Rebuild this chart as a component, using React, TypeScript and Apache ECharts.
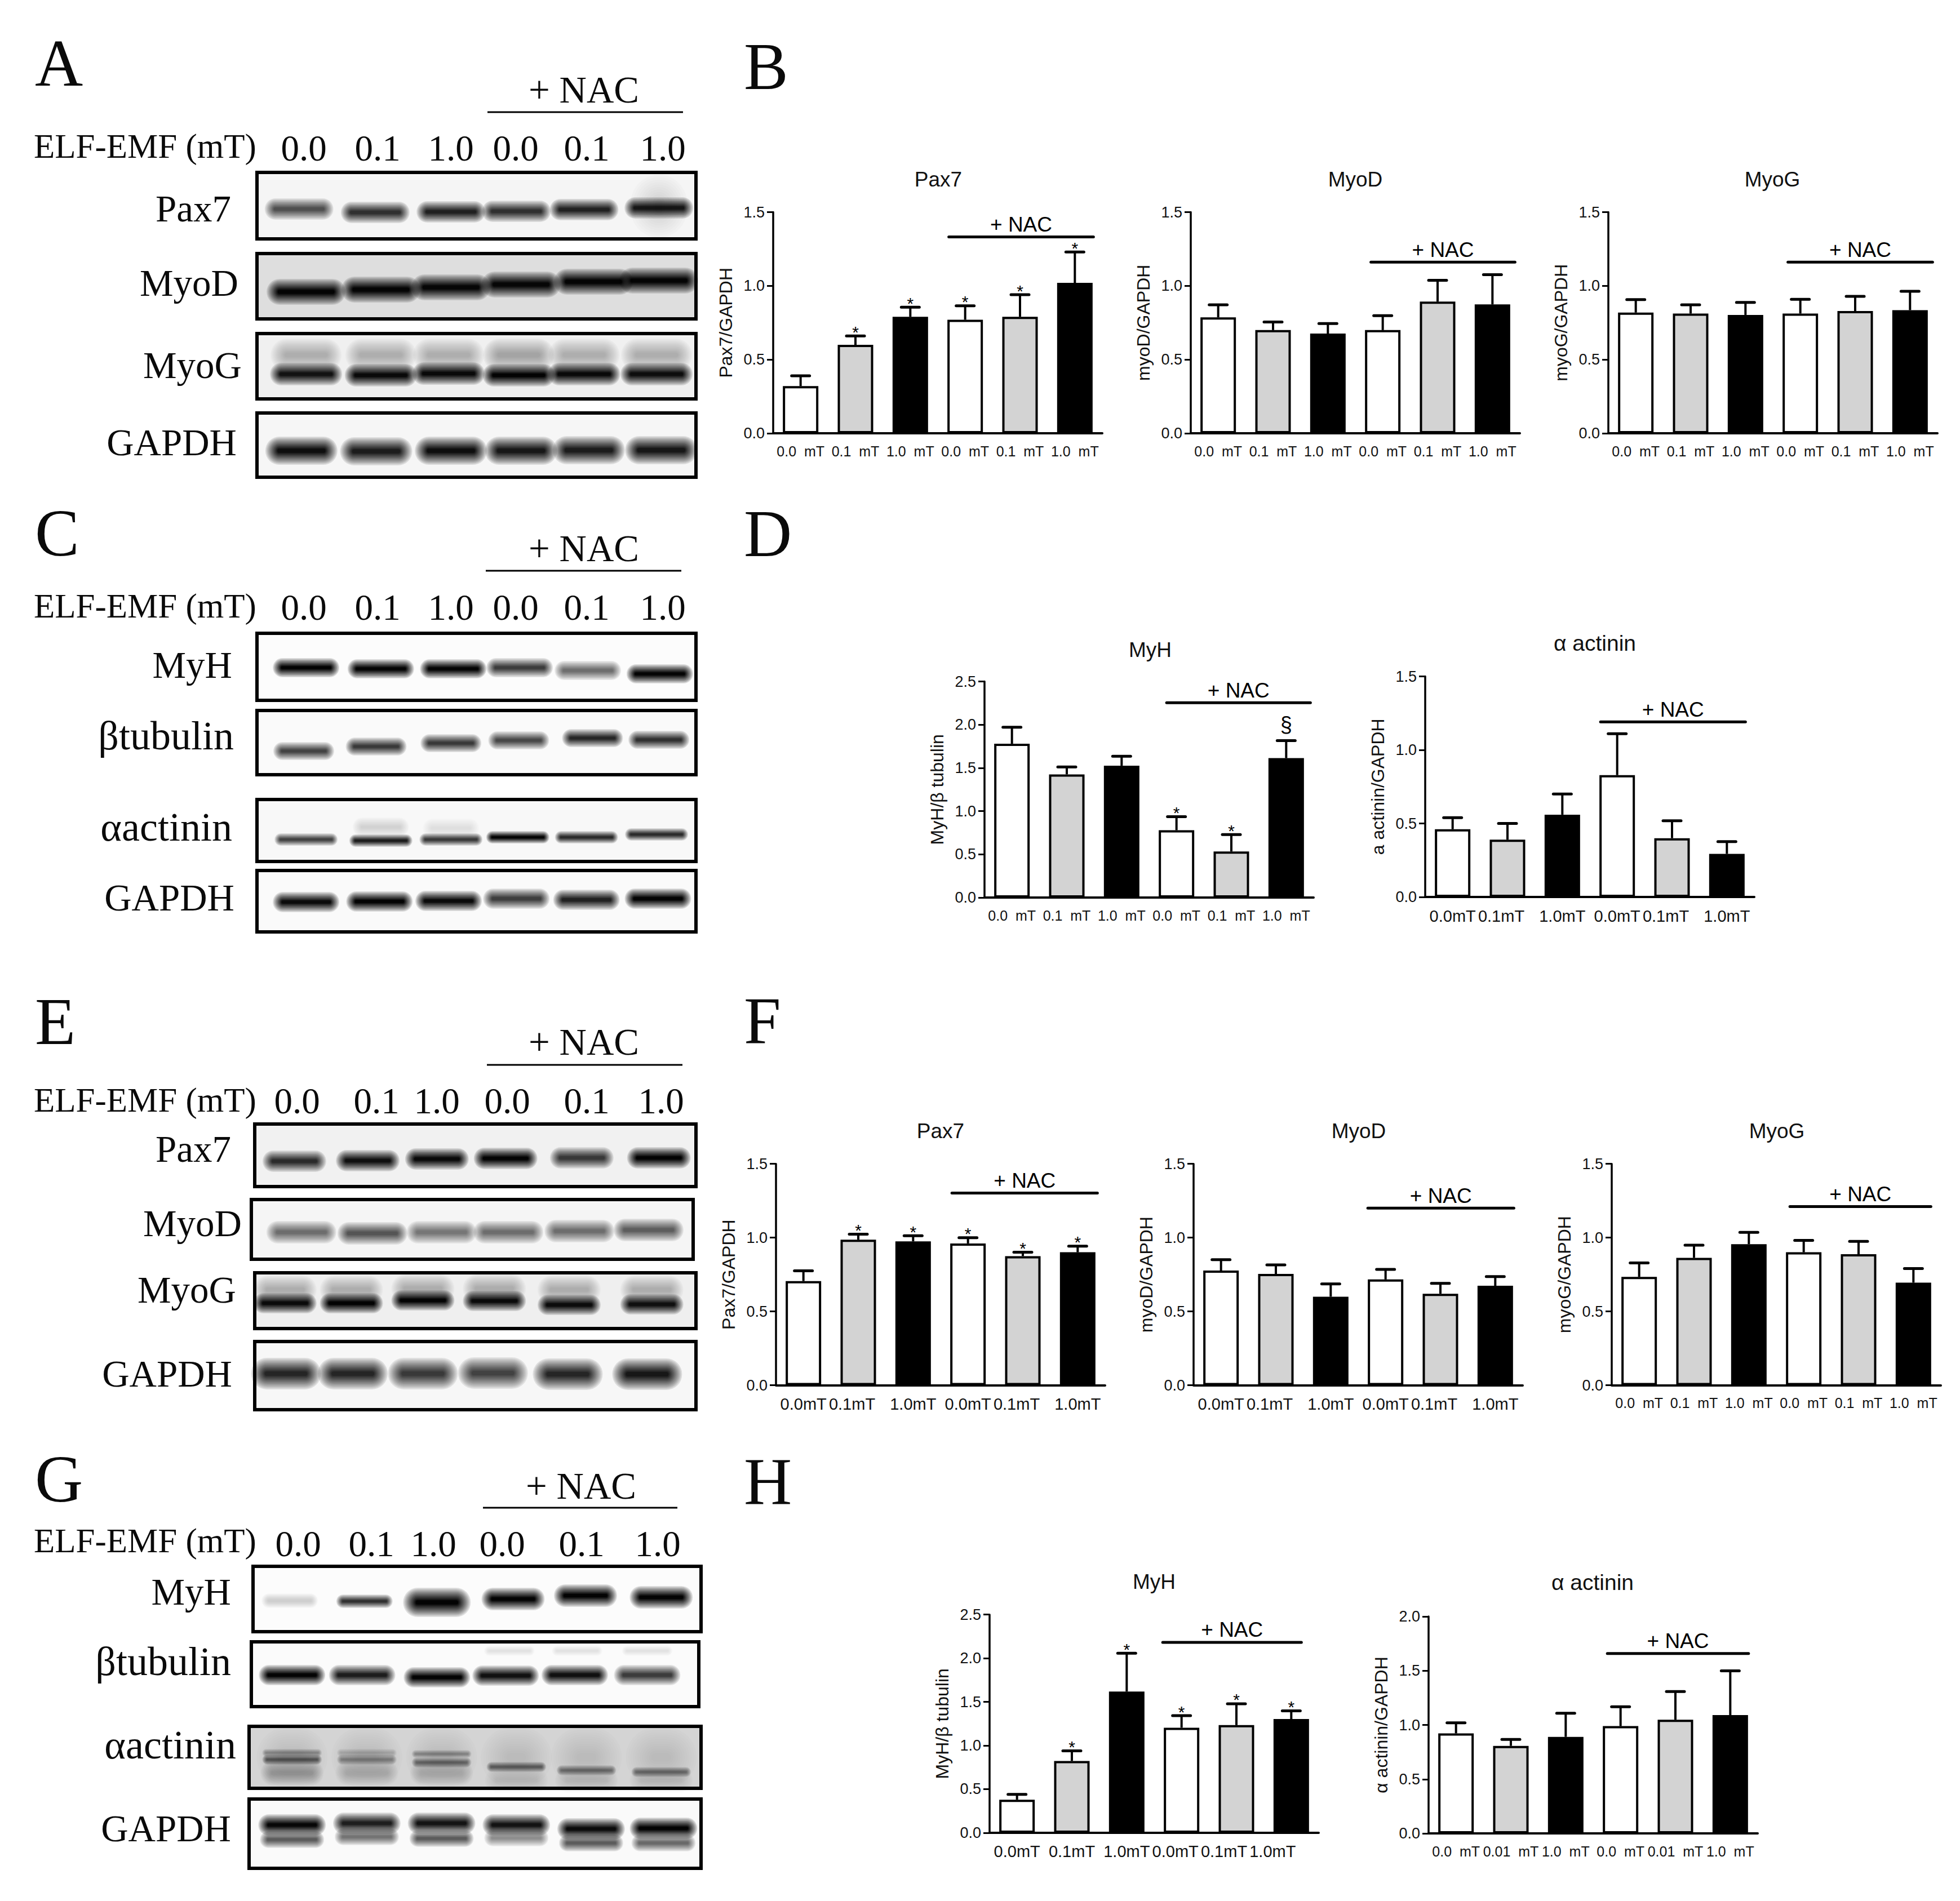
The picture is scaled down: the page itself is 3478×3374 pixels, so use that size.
import React, { useEffect, useRef } from "react";
import * as echarts from "echarts";

const W = 3478, H = 3374;
const SANS = "Liberation Sans", SERIF = "Liberation Serif";

// ---------- bar chart data ----------
const catsSpaced = ["0.0  mT", "0.1  mT", "1.0  mT", "0.0  mT", "0.1  mT", "1.0  mT"];
const catsTight = ["0.0mT", "0.1mT", "1.0mT", "0.0mT", "0.1mT", "1.0mT"];
const catsH2 = ["0.0  mT", "0.01  mT", "1.0  mT", "0.0  mT", "0.01  mT", "1.0  mT"];
const barFills = ["#ffffff", "#d3d3d3", "#000000", "#ffffff", "#d3d3d3", "#000000"];

const bPax7Mean = [0.32, 0.6, 0.79, 0.77, 0.79, 1.02];
const bPax7Top = [0.39, 0.66, 0.855, 0.865, 0.94, 1.23];
const bPax7Marks = ["", "*", "*", "*", "*", "*"];
const bMyoDMean = [0.786, 0.7, 0.676, 0.7, 0.893, 0.874];
const bMyoDTop = [0.871, 0.755, 0.744, 0.798, 1.038, 1.076];
const bMyoGMean = [0.819, 0.812, 0.803, 0.812, 0.829, 0.835];
const bMyoGTop = [0.907, 0.871, 0.888, 0.909, 0.929, 0.963];
const dMyHMean = [1.78, 1.425, 1.526, 0.779, 0.533, 1.613];
const dMyHTop = [1.97, 1.51, 1.635, 0.935, 0.728, 1.815];
const dMyHMarks = ["", "", "", "*", "*", "§"];
const dActMean = [0.461, 0.39, 0.56, 0.829, 0.4, 0.293];
const dActTop = [0.539, 0.5, 0.7, 1.11, 0.518, 0.377];
const fPax7Mean = [0.706, 0.986, 0.975, 0.961, 0.875, 0.901];
const fPax7Top = [0.775, 1.024, 1.013, 1.0, 0.901, 0.942];
const fPax7Marks = ["", "*", "*", "*", "*", "*"];
const fMyoDMean = [0.777, 0.754, 0.6, 0.717, 0.62, 0.674];
const fMyoDTop = [0.851, 0.815, 0.687, 0.785, 0.69, 0.736];
const fMyoGMean = [0.734, 0.863, 0.956, 0.901, 0.888, 0.695];
const fMyoGTop = [0.829, 0.949, 1.036, 0.982, 0.975, 0.791];
const hMyHMean = [0.378, 0.823, 1.619, 1.204, 1.234, 1.303];
const hMyHTop = [0.44, 0.939, 2.057, 1.342, 1.478, 1.398];
const hMyHMarks = ["", "*", "*", "*", "*", "*"];
const hActMean = [0.922, 0.807, 0.89, 0.989, 1.048, 1.091];
const hActTop = [1.02, 0.866, 1.108, 1.167, 1.308, 1.499];
const noMarks = ["", "", "", "", "", ""];

const noShift = [0, 0, 0, 0, 0, 0];
const tightShift = [0, 11, 0, 0, 11, 0];
const hMyHShift = [0, 0, 0, 11, 22, 33];

const charts = [
  { title: "Pax7", titleX: 1665, titleBase: 331, yName: "Pax7/GAPDH", left: 1372, top: 376.5, bottom: 769, max: 1.5, cats: catsSpaced, means: bPax7Mean, tops: bPax7Top, marks: bPax7Marks, nac: 1.332, nacL: -29, nacR: 33, fs: 25, shift: noShift },
  { title: "MyoD", titleX: 2405, titleBase: 331, yName: "myoD/GAPDH", left: 2113, top: 376.5, bottom: 769, max: 1.5, cats: catsSpaced, means: bMyoDMean, tops: bMyoDTop, marks: noMarks, nac: 1.161, nacL: -21, nacR: 40, fs: 25, shift: noShift },
  { title: "MyoG", titleX: 3145, titleBase: 331, yName: "myoG/GAPDH", left: 2854, top: 376.5, bottom: 769, max: 1.5, cats: catsSpaced, means: bMyoGMean, tops: bMyoGTop, marks: noMarks, nac: 1.161, nacL: -22, nacR: 40, fs: 25, shift: noShift },
  { title: "MyH", titleX: 2041, titleBase: 1166, yName: "MyH/β tubulin", left: 1747, top: 1209.5, bottom: 1593, max: 2.5, cats: catsSpaced, means: dMyHMean, tops: dMyHTop, marks: dMyHMarks, nac: 2.254, nacL: -17.5, nacR: 43, fs: 25, shift: noShift },
  { title: "α actinin", titleX: 2830, titleBase: 1155, yName: "a actinin/GAPDH", left: 2529, top: 1200.6, bottom: 1592, max: 1.5, cats: catsTight, means: dActMean, tops: dActTop, marks: noMarks, nac: 1.191, nacL: -29.5, nacR: 33, fs: 29, shift: tightShift },
  { title: "Pax7", titleX: 1669, titleBase: 2020, yName: "Pax7/GAPDH", left: 1377, top: 2065.7, bottom: 2458.6, max: 1.5, cats: catsTight, means: fPax7Mean, tops: fPax7Top, marks: fPax7Marks, nac: 1.302, nacL: -28.5, nacR: 35, fs: 29, shift: tightShift },
  { title: "MyoD", titleX: 2411, titleBase: 2020, yName: "myoD/GAPDH", left: 2118, top: 2065.7, bottom: 2458.6, max: 1.5, cats: catsTight, means: fMyoDMean, tops: fMyoDTop, marks: noMarks, nac: 1.2, nacL: -31.5, nacR: 33, fs: 29, shift: tightShift },
  { title: "MyoG", titleX: 3153, titleBase: 2020, yName: "myoG/GAPDH", left: 2860, top: 2065.7, bottom: 2458.6, max: 1.5, cats: catsSpaced, means: fMyoGMean, tops: fMyoGTop, marks: noMarks, nac: 1.211, nacL: -24.5, nacR: 31, fs: 25, shift: noShift },
  { title: "MyH", titleX: 2048, titleBase: 2820, yName: "MyH/β tubulin", left: 1756, top: 2865.7, bottom: 3252.9, max: 2.5, cats: catsTight, means: hMyHMean, tops: hMyHTop, marks: hMyHMarks, nac: 2.182, nacL: -33.5, nacR: 18, fs: 29, shift: hMyHShift },
  { title: "α actinin", titleX: 2826, titleBase: 2822, yName: "α actinin/GAPDH", left: 2535, top: 2869, bottom: 3254, max: 2.0, cats: catsH2, means: hActMean, tops: hActTop, marks: noMarks, nac: 1.659, nacL: -23.5, nacR: 32.5, fs: 25, shift: noShift },
];

// ---------- western-blot panels ----------
const panelLabels = [
  { text: "A", x: 62, base: 152 }, { text: "B", x: 1320, base: 158 },
  { text: "C", x: 62, base: 986 }, { text: "D", x: 1320, base: 987 },
  { text: "E", x: 62, base: 1853 }, { text: "F", x: 1320, base: 1852 },
  { text: "G", x: 62, base: 2665 }, { text: "H", x: 1320, base: 2669 },
];
const doseLabels = ["0.0", "0.1", "1.0", "0.0", "0.1", "1.0"];
const headers = [
  { nacX: 1036, nacBase: 182, lineL: 865, lineR: 1212, lineY: 199, elfBase: 280, doseBase: 285, doseX: [539, 670, 800, 915, 1041, 1176] },
  { nacX: 1036, nacBase: 996, lineL: 862, lineR: 1209, lineY: 1013, elfBase: 1096, doseBase: 1100, doseX: [539, 670, 800, 915, 1041, 1176] },
  { nacX: 1036, nacBase: 1872, lineL: 864, lineR: 1211, lineY: 1890, elfBase: 1973, doseBase: 1976, doseX: [527, 668, 775, 900, 1041, 1173] },
  { nacX: 1031, nacBase: 2660, lineL: 857, lineR: 1202, lineY: 2676, elfBase: 2755, doseBase: 2762, doseX: [529, 659, 769, 891, 1032, 1167] },
];
const z = (vals: number[]) => vals.map((v) => v / 1.206); // lane centres
const same = (v: number) => [v, v, v, v, v, v];
const blots = [
  { label: "Pax7", fs: 67, box: [456, 306, 1235, 424], right: 410, base: 393, bg: "#f5f5f5", layers: [
    { x: z([1410]), y: [366], s: [0.12], w: 100, h: 112 },
    { x: z([640, 803, 965, 1105, 1250, 1410]), y: [371, 377, 376, 375, 372, 369], s: [0.66, 0.8, 0.86, 0.8, 0.86, 0.9], w: 122, h: 38 } ] },
  { label: "MyoD", fs: 67, box: [456, 450, 1235, 566], right: 423, base: 525, bg: "#dedede", layers: [
    { x: z([655, 815, 965, 1115, 1270, 1410]), y: [518, 514, 510, 505, 500, 498], s: [0.99, 0.98, 0.97, 0.97, 0.98, 0.98], w: 140, h: 46 } ] },
  { label: "MyoG", fs: 67, box: [456, 592, 1235, 708], right: 429, base: 671, bg: "#f0f0f0", layers: [
    { x: z([655, 815, 960, 1110, 1250, 1405]), y: same(630), s: [0.24, 0.24, 0.24, 0.3, 0.24, 0.24], w: 126, h: 58 },
    { x: z([655, 815, 960, 1110, 1250, 1405]), y: [664, 666, 663, 666, 664, 664], s: [0.92, 0.96, 0.96, 0.99, 0.96, 0.94], w: 128, h: 40 } ] },
  { label: "GAPDH", fs: 67, box: [456, 733, 1235, 847], right: 420, base: 808, bg: "#f6f6f6", layers: [
    { x: z([645, 805, 965, 1115, 1260, 1415]), y: [800, 801, 800, 800, 799, 799], s: [0.94, 0.88, 0.94, 0.9, 0.88, 0.9], w: 128, h: 50 } ] },

  { label: "MyH", fs: 67, box: [456, 1124, 1235, 1243], right: 412, base: 1203, bg: "#fcfcfc", layers: [
    { x: z([655, 815, 970, 1112, 1258, 1412]), y: [1185, 1187, 1187, 1185, 1190, 1196], s: [0.99, 0.98, 0.98, 0.75, 0.55, 0.98], w: 118, h: 34 } ] },
  { label: "βtubulin", fs: 72, box: [456, 1261, 1235, 1375], right: 415, base: 1330, bg: "#fafafa", layers: [
    { x: z([650, 805, 965, 1110, 1268, 1410]), y: [1333, 1325, 1319, 1314, 1310, 1313], s: [0.72, 0.76, 0.76, 0.7, 0.84, 0.8], w: 108, h: 32 } ] },
  { label: "αactinin", fs: 72, box: [456, 1419, 1235, 1529], right: 412, base: 1492, bg: "#f8f8f8", layers: [
    { x: z([815, 965]), y: [1468, 1470], s: [0.14, 0.08], w: 100, h: 34 },
    { x: z([655, 815, 965, 1108, 1255, 1405]), y: [1490, 1492, 1490, 1486, 1486, 1481], s: [0.72, 0.88, 0.76, 0.99, 0.82, 0.82], w: 112, h: 22 } ] },
  { label: "GAPDH", fs: 67, box: [456, 1545, 1235, 1654], right: 416, base: 1616, bg: "#fafafa", layers: [
    { x: z([655, 812, 960, 1105, 1255, 1408]), y: [1601, 1600, 1599, 1595, 1597, 1595], s: [0.95, 0.99, 0.95, 0.74, 0.86, 0.98], w: 118, h: 36 } ] },

  { label: "Pax7", fs: 67, box: [452, 1995, 1235, 2106], right: 410, base: 2062, bg: "#f1f1f1", layers: [
    { x: z([630, 787, 935, 1082, 1245, 1410]), y: [2061, 2060, 2057, 2056, 2055, 2055], s: [0.82, 0.93, 0.96, 0.99, 0.76, 0.99], w: 113, h: 38 } ] },
  { label: "MyoD", fs: 67, box: [446, 2129, 1230, 2235], right: 429, base: 2194, bg: "#f5f5f5", layers: [
    { x: z([645, 797, 945, 1088, 1240, 1388]), y: [2187, 2189, 2187, 2187, 2185, 2183], s: [0.54, 0.64, 0.5, 0.54, 0.54, 0.6], w: 124, h: 40 } ] },
  { label: "MyoG", fs: 67, box: [452, 2259, 1235, 2358], right: 419, base: 2312, bg: "#efefef", layers: [
    { x: z([610, 752, 905, 1058, 1218, 1395]), y: [2289, 2289, 2287, 2287, 2289, 2289], s: same(0.24), w: 112, h: 50 },
    { x: z([610, 752, 905, 1058, 1218, 1395]), y: [2313, 2313, 2308, 2309, 2316, 2315], s: [0.95, 0.99, 0.99, 0.95, 0.95, 0.93], w: 112, h: 36 } ] },
  { label: "GAPDH", fs: 67, box: [452, 2381, 1235, 2502], right: 412, base: 2461, bg: "#f7f7f7", layers: [
    { x: z([612, 755, 905, 1055, 1215, 1385]), y: [2438, 2438, 2438, 2437, 2439, 2439], s: [0.84, 0.84, 0.76, 0.72, 0.84, 0.9], w: 124, h: 56 } ] },

  { label: "MyH", fs: 67, box: [449, 2780, 1244, 2896], right: 410, base: 2848, bg: "#fcfcfc", layers: [
    { x: z([620]), y: [2841], s: [0.16], w: 100, h: 26 },
    { x: z([780]), y: [2842], s: [0.8], w: 100, h: 24 },
    { x: z([935]), y: [2844], s: [0.99], w: 120, h: 52 },
    { x: z([1098, 1253, 1415]), y: [2838, 2832, 2835], s: [0.98, 0.99, 0.98], w: 112, h: 40 } ] },
  { label: "βtubulin", fs: 72, box: [446, 2914, 1240, 3029], right: 410, base: 2973, bg: "#fbfbfb", layers: [
    { x: z([1090, 1235, 1385]), y: same(2930), s: same(0.08), w: 90, h: 18 },
    { x: z([625, 775, 935, 1082, 1230, 1385]), y: [2973, 2973, 2977, 2974, 2973, 2973], s: [0.98, 0.88, 0.99, 0.93, 0.93, 0.75], w: 118, h: 36 } ] },
  { label: "αactinin", fs: 72, box: [442, 3064, 1244, 3174], right: 419, base: 3121, bg: "#d4d4d4", layers: [
    { x: z([625, 785, 945, 1105, 1255, 1415]), y: same(3119), s: same(0.08), w: 126, h: 106 },
    { x: z([625, 785, 945, 1105, 1255, 1415]), y: [3147, 3147, 3147, 3160, 3160, 3160], s: [0.24, 0.14, 0.16, 0.08, 0.1, 0.1], w: 112, h: 44 },
    { x: z([625, 785, 945]), y: [3111, 3111, 3113], s: [0.34, 0.18, 0.34], w: 106, h: 14 },
    { x: z([625, 785, 945, 1105, 1255, 1415]), y: [3123, 3123, 3128, 3136, 3142, 3145], s: [0.58, 0.38, 0.48, 0.54, 0.46, 0.46], w: 106, h: 18 } ] },
  { label: "GAPDH", fs: 67, box: [442, 3193, 1244, 3316], right: 410, base: 3268, bg: "#fafafa", layers: [
    { x: z([625, 785, 945, 1105, 1265, 1420]), y: [3265, 3260, 3263, 3262, 3271, 3271], s: [0.62, 0.52, 0.62, 0.42, 0.62, 0.56], w: 114, h: 30 },
    { x: z([625, 785, 945, 1105, 1265, 1420]), y: [3239, 3236, 3236, 3239, 3246, 3245], s: [0.97, 0.88, 0.92, 0.92, 0.95, 0.99], w: 120, h: 38 } ] },
];

const text = (t: string, x: number, base: number, fs: number, family: string, align = "left", color = "#0a0a0a") => ({
  type: "text", x, y: base - 0.337 * fs, silent: true,
  style: { text: t, fontSize: fs, fontFamily: family, align, verticalAlign: "middle", fill: color },
});

// A soft band: nested rounded rects whose summed opacity rises from the rim to a thin core.
function bandShapes(cx: number, cy: number, w: number, h: number, strength: number) {
  const steps = 12;
  const s = Math.min(strength, 0.985);
  const out: any[] = [];
  let prev = 0;
  for (let k = 0; k < steps; k++) {
    const c = s * Math.pow((k + 1) / steps, 0.85);
    const a = 1 - (1 - c) / (1 - prev);
    prev = c;
    const inset = (k * h) / (2.15 * steps);
    const rw = w - 2 * inset, rh = h - 2 * inset;
    out.push({
      type: "rect", silent: true,
      shape: { x: cx - rw / 2, y: cy - rh / 2, width: rw, height: rh, r: rh / 2 },
      style: { fill: `rgba(0,0,0,${a.toFixed(3)})` },
    });
  }
  return out;
}

function buildGraphics() {
  const els: any[] = [];
  panelLabels.forEach((p) => els.push(text(p.text, p.x, p.base, 118, SERIF)));
  headers.forEach((h) => {
    els.push(text("+ NAC", h.nacX, h.nacBase, 67, SERIF, "center"));
    els.push({ type: "line", silent: true, shape: { x1: h.lineL, y1: h.lineY, x2: h.lineR, y2: h.lineY }, style: { stroke: "#000", lineWidth: 3 } });
    els.push(text("ELF-EMF (mT)", 60, h.elfBase, 61, SERIF));
    h.doseX.forEach((x, i) => els.push(text(doseLabels[i], x, h.doseBase, 65, SERIF, "center")));
  });
  blots.forEach((b) => {
    const [x0, y0, x1, y1] = b.box;
    els.push({ type: "rect", silent: true, shape: { x: x0, y: y0, width: x1 - x0, height: y1 - y0 }, style: { fill: b.bg } });
    b.layers.forEach((l) => l.x.forEach((cx, i) => els.push(...bandShapes(cx, l.y[i], l.w, l.h, l.s[i]))));
    els.push({ type: "rect", silent: true, shape: { x: x0, y: y0, width: x1 - x0, height: y1 - y0 }, style: { fill: "none", stroke: "#000", lineWidth: 6 } });
    els.push(text(b.label, b.right, b.base, b.fs, SERIF, "right"));
  });
  charts.forEach((c) => els.push(text(c.title, c.titleX, c.titleBase, c.title.startsWith("α") ? 39 : 37, SANS, "center", "#111")));
  return els;
}

function buildOption() {
  const grid: any[] = [], xAxis: any[] = [], yAxis: any[] = [], series: any[] = [];
  charts.forEach((c, gi) => {
    grid.push({ left: c.left, top: c.top, width: 584, height: c.bottom - c.top });
    const rich: any = {};
    c.shift.forEach((s, i) => {
      rich["s" + i] = { padding: [0, 2 * s, 0, 0], fontSize: c.fs, fontFamily: SANS, color: "#111" };
    });
    xAxis.push({
      type: "category", gridIndex: gi, data: c.cats, boundaryGap: true,
      axisLine: { lineStyle: { color: "#000", width: 4 } },
      axisTick: { alignWithLabel: true, length: 13, lineStyle: { color: "#000", width: 3 } },
      axisLabel: {
        interval: 0, hideOverlap: false, margin: 19, fontSize: c.fs, fontFamily: SANS, color: "#111", rich,
        formatter: (v: string, i: number) => (c.shift[i] ? `{s${i}|${v}}` : v),
      },
      splitLine: { show: false },
    });
    yAxis.push({
      type: "value", gridIndex: gi, min: 0, max: c.max, interval: 0.5,
      name: c.yName, nameLocation: "middle", nameGap: 68, nameRotate: 90,
      nameTextStyle: { fontSize: 32, fontFamily: SANS, color: "#111" },
      axisLine: { show: true, lineStyle: { color: "#000", width: 3.5 } },
      axisTick: { show: true, length: 11, lineStyle: { color: "#000", width: 3 } },
      axisLabel: { margin: 15, fontSize: 27, fontFamily: SANS, color: "#111", formatter: (v: number) => v.toFixed(1) },
      splitLine: { show: false },
    });
    series.push({
      type: "bar", xAxisIndex: gi, yAxisIndex: gi, barWidth: 63, silent: true,
      data: c.means.map((v, i) => ({ value: v, itemStyle: { color: barFills[i], borderColor: "#000", borderWidth: 4 } })),
    });
    series.push({
      type: "custom", xAxisIndex: gi, yAxisIndex: gi, silent: true, z: 3,
      encode: { x: 0, y: 2 },
      data: c.means.map((v, i) => [i, v, c.tops[i]]),
      renderItem: (_: any, api: any) => {
        const i = api.value(0);
        const a = api.coord([i, api.value(1)]);
        const b = api.coord([i, api.value(2)]);
        const kids: any[] = [
          { type: "line", shape: { x1: a[0], y1: a[1], x2: b[0], y2: b[1] }, style: { stroke: "#000", lineWidth: 4 } },
          { type: "line", shape: { x1: b[0] - 16, y1: b[1], x2: b[0] + 16, y2: b[1] }, style: { stroke: "#000", lineWidth: 5, lineCap: "round" } },
        ];
        const m = c.marks[i];
        if (m) {
          kids.push({
            type: "text", x: b[0], y: m === "*" ? b[1] - 7 : b[1] - 29,
            style: { text: m, fontSize: m === "*" ? 30 : 38, fontFamily: SANS, align: "center", verticalAlign: "middle", fill: "#000" },
          });
        }
        return { type: "group", children: kids };
      },
    });
    series.push({
      type: "custom", xAxisIndex: gi, yAxisIndex: gi, silent: true, z: 3,
      encode: { x: 0, y: 1 },
      data: [[3, c.nac]],
      renderItem: (_: any, api: any) => {
        const a = api.coord([3, api.value(1)]);
        const b = api.coord([5, api.value(1)]);
        const l = a[0] + c.nacL, r = b[0] + c.nacR;
        return {
          type: "group",
          children: [
            { type: "line", shape: { x1: l, y1: a[1], x2: r, y2: a[1] }, style: { stroke: "#000", lineWidth: 5, lineCap: "round" } },
            { type: "text", x: (l + r) / 2, y: a[1] - 22, style: { text: "+ NAC", fontSize: 37, fontFamily: SANS, align: "center", verticalAlign: "middle", fill: "#000" } },
          ],
        };
      },
    });
  });
  return { animation: false, backgroundColor: "#ffffff", grid, xAxis, yAxis, series, graphic: { elements: buildGraphics() } };
}

export default function App() {
  const ref = useRef<HTMLDivElement>(null);
  useEffect(() => {
    document.body.style.margin = "0";
    const chart = echarts.init(ref.current!, undefined, { renderer: "svg" });
    chart.setOption(buildOption() as any);
    return () => chart.dispose();
  }, []);
  return <div ref={ref} style={{ width: W, height: H }} />;
}
